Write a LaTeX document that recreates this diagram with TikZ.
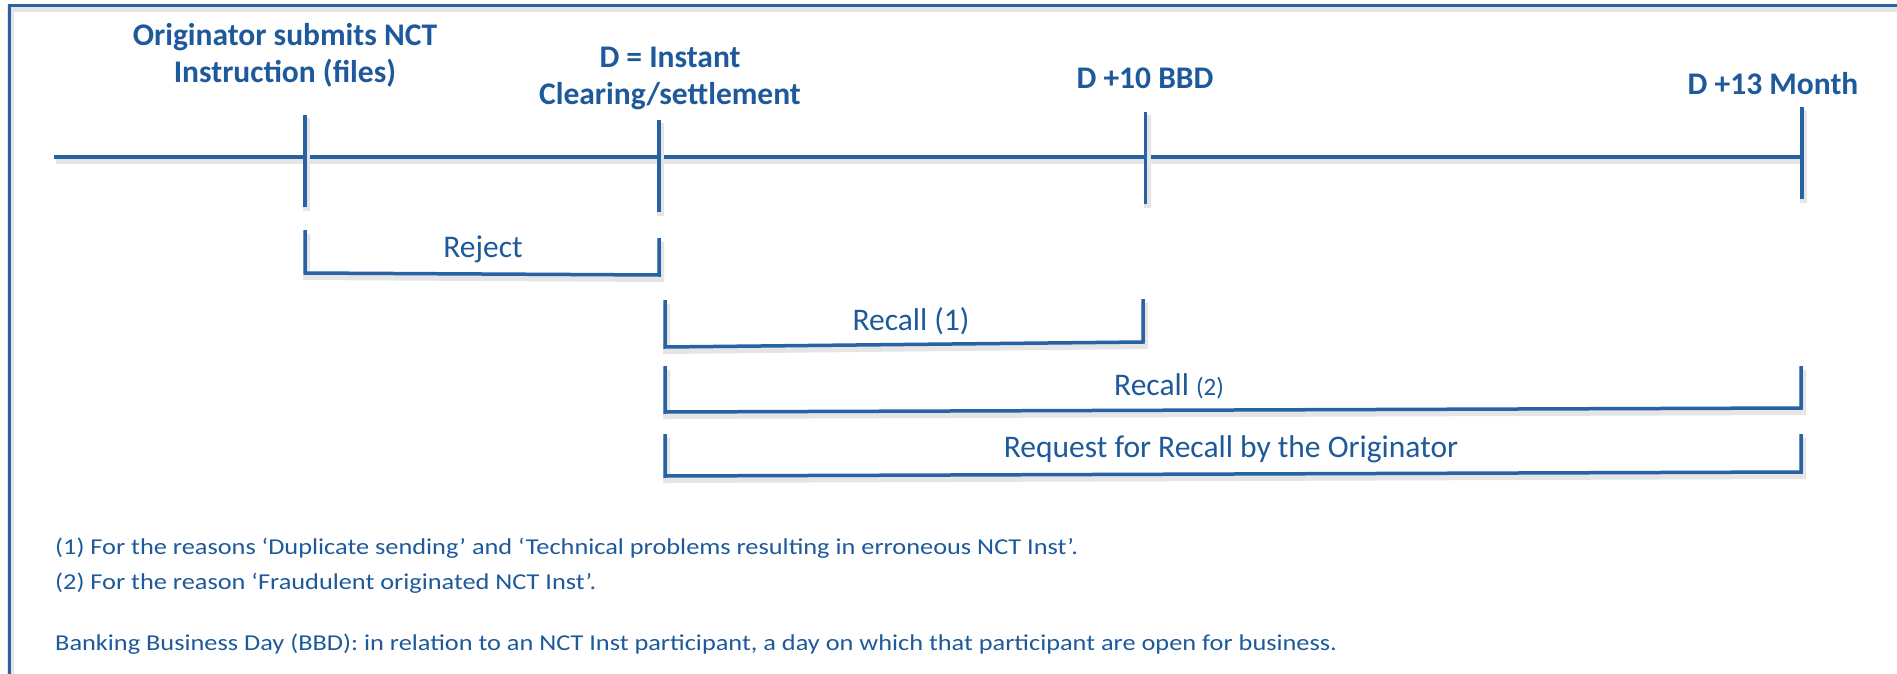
\documentclass[tikz,border=0pt]{standalone}
\usepackage{fontspec}
\setmainfont{Carlito}
\newfontfamily\notefont[FakeStretch=1.16]{Carlito}
\definecolor{txtblue}{RGB}{30,90,155}
\definecolor{lnblue}{RGB}{38,98,164}
\begin{document}
\begin{tikzpicture}[x=1pt,y=-1pt,
  shadowed/.style={preaction={draw=black!10,line width=7pt,transform canvas={xshift=1.5pt,yshift=-3.5pt}}},
  axis/.style={draw=lnblue,line width=3.5pt,shadowed},
  bracket/.style={draw=lnblue,line width=3.5pt,shadowed},
  frame/.style={draw=lnblue,line width=3pt,shadowed},
  toplabel/.style={text=txtblue,font=\fontsize{31.5}{37}\selectfont\bfseries,anchor=base,inner sep=0pt},
  barlabel/.style={text=txtblue,font=\fontsize{31.5}{37}\selectfont,anchor=base,inner sep=0pt},
  note/.style={text=txtblue,font=\notefont\fontsize{22.7}{27}\selectfont,anchor=base west,inner sep=0pt}]
\clip (0,0) rectangle (1897,674);
\fill[white] (0,0) rectangle (1897,674);
% frame
\draw[frame] (9,720) -- (9,5.5) -- (1930,5.5);
% timeline
\coordinate (ax0) at (54,157);
\coordinate (t1a) at (305,115); \coordinate (t1b) at (305,207);
\coordinate (t2a) at (659,120); \coordinate (t2b) at (659,212);
\coordinate (t3a) at (1145.5,112); \coordinate (t3b) at (1145.5,204);
\coordinate (t4a) at (1802,107); \coordinate (t4b) at (1802,199);
\coordinate (ax1) at (1802,157);
\draw[axis] (ax0) -- (ax1);
\draw[axis] (t1a) -- (t1b);
\draw[axis] (t2a) -- (t2b);
\draw[axis] (t3a) -- (t3b);
\draw[axis] (t4a) -- (t4b);
% top labels
\node[toplabel] (l1a) at (285,46) {Originator submits NCT};
\node[toplabel] (l1b) at (285,83) {Instruction (files)};
\node[toplabel] (l2a) at (670,68) {D = Instant};
\node[toplabel] (l2b) at (670,105) {Clearing/settlement};
\node[toplabel] (l3) at (1145,89) {D +10 BBD};
\node[toplabel] (l4) at (1773,95) {D +13 Month};
% brackets
\coordinate (rj1) at (305,230); \coordinate (rj2) at (305,273);
\coordinate (rj3) at (659,275); \coordinate (rj4) at (659,238);
\draw[bracket] (rj1) -- (rj2) -- (rj3) -- (rj4);
\node[barlabel] (rej) at (483,257) {Reject};
\coordinate (ra1) at (665,300); \coordinate (ra2) at (665,347);
\coordinate (ra3) at (1143,342); \coordinate (ra4) at (1143,299);
\draw[bracket] (ra1) -- (ra2) -- (ra3) -- (ra4);
\node[barlabel] (rec1) at (911,330) {Recall (1)};
\coordinate (rb1) at (665,366); \coordinate (rb2) at (665,412);
\coordinate (rb3) at (1801,408); \coordinate (rb4) at (1801,366);
\draw[bracket] (rb1) -- (rb2) -- (rb3) -- (rb4);
\node[barlabel,anchor=base west] (rec2) at (1114,395) {Recall {\fontsize{25}{30}\selectfont(2)}};
\coordinate (rc1) at (665,434); \coordinate (rc2) at (665,476);
\coordinate (rc3) at (1801,472); \coordinate (rc4) at (1801,434);
\draw[bracket] (rc1) -- (rc2) -- (rc3) -- (rc4);
\node[barlabel] (req) at (1231,457) {Request for Recall by the Originator};
% notes
\node[note] (n1) at (55,554) {(1) For the reasons ‘Duplicate sending’ and ‘Technical problems resulting in erroneous NCT Inst’.};
\node[note] (n2) at (55,589) {(2) For the reason ‘Fraudulent originated NCT Inst’.};
\node[note] (n3) at (55,650) {Banking Business Day (BBD): in relation to an NCT Inst participant, a day on which that participant are open for business.};
\end{tikzpicture}
\end{document}
